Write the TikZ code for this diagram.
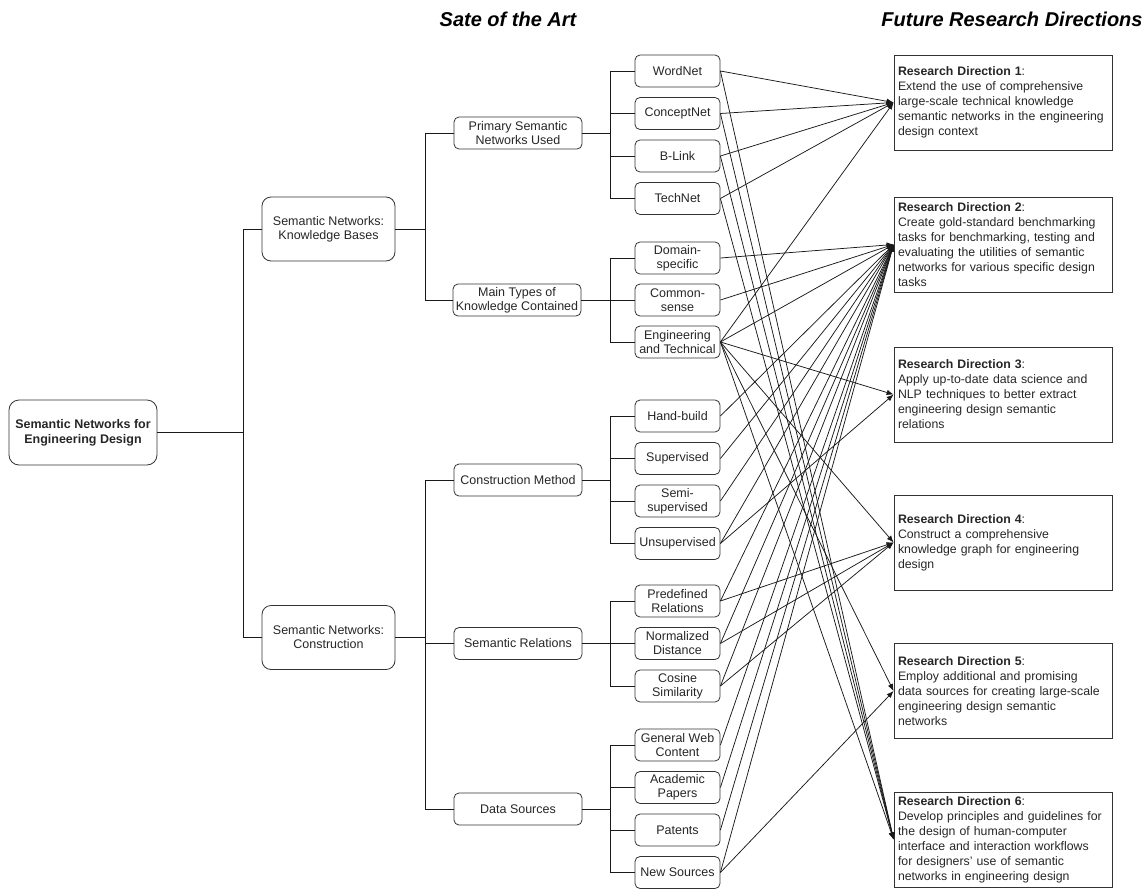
\documentclass[tikz,border=0pt]{standalone}
\usepackage{fontspec}
\setmainfont{Liberation Sans}
\usetikzlibrary{arrows.meta}
\definecolor{bd}{HTML}{333333}
\definecolor{txt}{HTML}{262626}
\begin{document}
\begin{tikzpicture}[x=1pt,y=-1pt,
  every node/.style={font=\fontsize{12.5}{14}\selectfont, text=txt},
  leafbox/.style={draw=bd, line width=0.8pt, rounded corners=5pt, minimum width=85pt, minimum height=32pt, align=center, inner sep=1pt},
  midbox/.style={leafbox, minimum width=128pt},
  topbox/.style={leafbox, minimum width=133pt, minimum height=64pt, rounded corners=9pt},
  rootbox/.style={leafbox, minimum width=148pt, minimum height=65pt, rounded corners=10pt, font=\bfseries\fontsize{12.5}{15}\selectfont},
  rdbox/.style={draw=bd, line width=0.8pt, minimum width=218pt, minimum height=95pt, text width=210pt, inner xsep=4pt, inner ysep=2pt, align=left, font=\fontsize{12.3}{15}\selectfont},
  titletext/.style={font=\bfseries\itshape\fontsize{20}{24}\selectfont, text=black},
  link/.style={draw=black!90, line width=0.75pt},
  arr/.style={link, -{Latex[length=7pt,width=5.5pt]}}]
\useasboundingbox (0,0) rectangle (1148,891);

% titles
\node[titletext] (t1) at (508,19) {Sate of the Art};
\node[titletext] (t2) at (1012,19) {Future Research Directions};

% root and level 1
\node[rootbox] (root) at (83,432.5) {Semantic Networks for\\Engineering Design};
\node[topbox] (kb) at (328.5,229) {Semantic Networks:\\Knowledge Bases};
\node[topbox] (con) at (328.5,637.5) {Semantic Networks:\\Construction};

% level 2
\node[midbox] (psn) at (518,133) {Primary Semantic\\Networks Used};
\node[midbox] (mtk) at (517,300) {Main Types of\\Knowledge Contained};
\node[midbox] (cm) at (518,480) {Construction Method};
\node[midbox] (sr) at (518,643.5) {Semantic Relations};
\node[midbox] (ds) at (518,809) {Data Sources};

% leaves
\node[leafbox] (wn) at (677.5,71) {WordNet};
\node[leafbox] (cn) at (677.5,113.5) {ConceptNet};
\node[leafbox] (bl) at (677.5,156) {B-Link};
\node[leafbox] (tn) at (677.5,198.5) {TechNet};
\node[leafbox] (dom) at (677.5,258) {Domain-\\specific};
\node[leafbox] (com) at (677.5,300) {Common-\\sense};
\node[leafbox] (et) at (677.5,342) {Engineering\\and Technical};
\node[leafbox] (hb) at (677.5,416) {Hand-build};
\node[leafbox] (sup) at (677.5,458.5) {Supervised};
\node[leafbox] (semi) at (677.5,501) {Semi-\\supervised};
\node[leafbox] (uns) at (677.5,543.5) {Unsupervised};
\node[leafbox] (pr) at (677.5,601) {Predefined\\Relations};
\node[leafbox] (nd) at (677.5,643.5) {Normalized\\Distance};
\node[leafbox] (cs) at (677.5,686) {Cosine\\Similarity};
\node[leafbox] (gw) at (677.5,745) {General Web\\Content};
\node[leafbox] (ap) at (677.5,787.5) {Academic\\Papers};
\node[leafbox] (pat) at (677.5,830) {Patents};
\node[leafbox] (ns) at (677.5,872.5) {New Sources};

% research directions
\node[rdbox] (rd1) at (1003,102.5) {\textbf{Research Direction 1}:\\Extend the use of comprehensive\\large-scale technical knowledge\\semantic networks in the engineering\\design context};
\node[rdbox] (rd2) at (1003,244.5) {\textbf{Research Direction 2}:\\Create gold-standard benchmarking\\tasks for benchmarking, testing and\\evaluating the utilities of semantic\\networks for various specific design\\tasks};
\node[rdbox] (rd3) at (1003,394.5) {\textbf{Research Direction 3}:\\Apply up-to-date data science and\\NLP techniques to better extract\\engineering design semantic\\relations};
\node[rdbox] (rd4) at (1003,542.5) {\textbf{Research Direction 4}:\\Construct a comprehensive\\knowledge graph for engineering\\design};
\node[rdbox] (rd5) at (1003,691) {\textbf{Research Direction 5}:\\Employ additional and promising\\data sources for creating large-scale\\engineering design semantic\\networks};
\node[rdbox] (rd6) at (1003,839.5) {\textbf{Research Direction 6}:\\Develop principles and guidelines for\\the design of human-computer\\interface and interaction workflows\\for designers' use of semantic\\networks in engineering design};

% tree connectors
\draw[link] (root.east) -- ++(86,0) coordinate (j0);
\draw[link] (j0) |- (kb.west);
\draw[link] (j0) |- (con.west);
\draw[link] (kb.east) -- ++(30,0) coordinate (j1);
\draw[link] (j1) |- (psn.west);
\draw[link] (j1) |- (mtk.west);
\draw[link] (con.east) -- ++(30,0) coordinate (j2);
\draw[link] (j2) |- (cm.west);
\draw[link] (j2) |- (sr.west);
\draw[link] (j2) |- (ds.west);
\draw[link] (psn.east) -- (610,133) coordinate (b1);
\foreach \n in {wn,cn,bl,tn} \draw[link] (b1) |- (\n.west);
\draw[link] (mtk.east) -- (610,300) coordinate (b2);
\foreach \n in {dom,com,et} \draw[link] (b2) |- (\n.west);
\draw[link] (cm.east) -- (610,480) coordinate (b3);
\foreach \n in {hb,sup,semi,uns} \draw[link] (b3) |- (\n.west);
\draw[link] (sr.east) -- (610,643.5) coordinate (b4);
\foreach \n in {pr,nd,cs} \draw[link] (b4) |- (\n.west);
\draw[link] (ds.east) -- (610,809) coordinate (b5);
\foreach \n in {gw,ap,pat,ns} \draw[link] (b5) |- (\n.west);

% mapping arrows
\foreach \s/\t in {wn/rd1, wn/rd6, cn/rd1, cn/rd6, bl/rd1, bl/rd6, tn/rd1, tn/rd6,
  dom/rd2, com/rd2, et/rd1, et/rd2, et/rd3, et/rd4, et/rd5, et/rd6,
  hb/rd2, sup/rd2, semi/rd2, uns/rd2, uns/rd3, pr/rd2, pr/rd4, nd/rd2, nd/rd4,
  cs/rd2, cs/rd4, gw/rd2, ap/rd2, pat/rd2, ns/rd2, ns/rd5}
  \draw[arr] (\s.east) -- (\t.west);
\end{tikzpicture}
\end{document}
